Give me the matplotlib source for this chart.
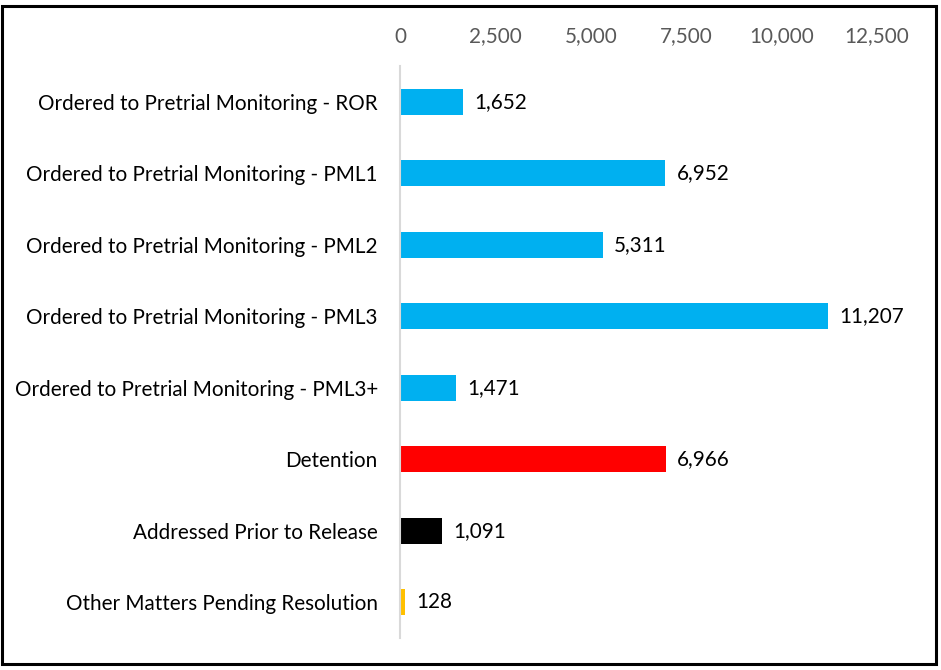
import matplotlib.pyplot as plt
from matplotlib.patches import Rectangle

# categories top to bottom
labels = ['Ordered to Pretrial Monitoring - ROR',
          'Ordered to Pretrial Monitoring - PML1',
          'Ordered to Pretrial Monitoring - PML2',
          'Ordered to Pretrial Monitoring - PML3',
          'Ordered to Pretrial Monitoring - PML3+',
          'Detention',
          'Addressed Prior to Release',
          'Other Matters Pending Resolution']
counts = [1652, 6952, 5311, 11207, 1471, 6966, 1091, 128]
colors = ['#00B0F0'] * 5 + ['#FF0000', '#000000', '#FFC000']
ticks = [0, 2500, 5000, 7500, 10000, 12500]

plt.rcParams['font.family'] = ['Lato', 'DejaVu Sans']
fs = 14.9

W, H = 941, 670
fig = plt.figure(figsize=(W / 100, H / 100), dpi=100)
ax = fig.add_axes([400 / W, 1 - 638 / H, (877 - 400) / W, (638 - 66) / H])

pos = list(range(len(labels)))
ax.barh(pos, counts, height=0.37, color=colors)
ax.set_ylim(len(labels) - 0.5, -0.5)
ax.set_xlim(0, 12500)

ax.set_yticks(pos)
ax.set_yticklabels(labels, fontsize=fs, color='black')
ax.set_xticks(ticks)
ax.set_xticklabels([f'{t:,}' for t in ticks], fontsize=fs, color='#595959')
ax.xaxis.tick_top()
ax.tick_params(axis='both', length=0)
ax.tick_params(axis='x', pad=14)
ax.tick_params(axis='y', pad=16)

for s in ['top', 'right', 'bottom']:
    ax.spines[s].set_visible(False)
ax.spines['left'].set_color('#D9D9D9')
ax.spines['left'].set_linewidth(1.5)

for p, v in zip(pos, counts):
    ax.text(v + 300, p, f'{v:,}', va='center', ha='left', fontsize=fs, color='black')

fig.patches.append(Rectangle((2 / W, 1 - 664 / H), 934 / W, 658 / H, transform=fig.transFigure,
                             fill=False, edgecolor='black', linewidth=2.2))

fig.savefig('out.png', dpi=100)
